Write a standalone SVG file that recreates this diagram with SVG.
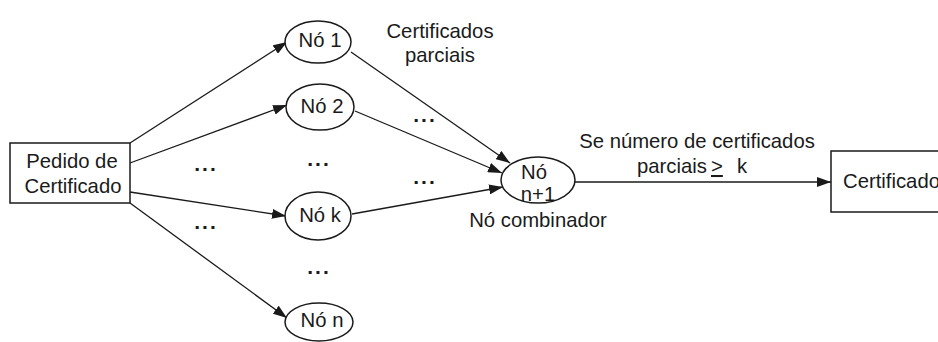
<svg xmlns="http://www.w3.org/2000/svg" width="938" height="342" viewBox="0 0 938 342">
  <defs>
    <marker id="arrow" markerUnits="userSpaceOnUse" markerWidth="15" markerHeight="10" refX="14" refY="5" orient="auto">
      <path d="M0,0 L14,5 L0,10 z" fill="#1a1a1a"/>
    </marker>
  </defs>
  <style>
    .box { fill: #fff; stroke: #1a1a1a; stroke-width: 1.5; }
    .node { fill: #fff; stroke: #1a1a1a; stroke-width: 1.5; }
    .edge { fill: none; stroke: #1a1a1a; stroke-width: 1.3; marker-end: url(#arrow); }
    text { font-family: "Liberation Sans", Arial, sans-serif; font-size: 20.3px; fill: #1a1a1a; }
    .mid { text-anchor: middle; }
    .dots { font-weight: bold; font-size: 21px; letter-spacing: 2px; text-anchor: middle; }
  </style>

  <g id="connectors">
    <line class="edge" x1="130" y1="143" x2="287" y2="42"/>
    <line class="edge" x1="130" y1="163" x2="287" y2="105"/>
    <line class="edge" x1="130" y1="192" x2="286" y2="216"/>
    <line class="edge" x1="130" y1="203" x2="287" y2="318"/>
    <line class="edge" x1="351" y1="52" x2="510" y2="163"/>
    <line class="edge" x1="355" y1="111" x2="502" y2="173"/>
    <line class="edge" x1="352" y1="214" x2="503" y2="187"/>
    <line class="edge" x1="575" y1="182" x2="831" y2="182"/>
  </g>

  <g id="pedido">
    <rect class="box" x="10" y="143" width="120" height="60"/>
    <text class="mid" x="72" y="168">Pedido de</text>
    <text class="mid" x="73" y="193">Certificado</text>
  </g>

  <g id="no1">
    <ellipse class="node" cx="318" cy="42" rx="33" ry="21"/>
    <text class="mid" x="320" y="47">Nó 1</text>
  </g>

  <g id="no2">
    <ellipse class="node" cx="320" cy="107" rx="34" ry="23"/>
    <text class="mid" x="322" y="113">Nó 2</text>
  </g>

  <g id="nok">
    <ellipse class="node" cx="318" cy="216" rx="33" ry="24"/>
    <text class="mid" x="320" y="222">Nó k</text>
  </g>

  <g id="non">
    <ellipse class="node" cx="319" cy="322" rx="34" ry="19"/>
    <text class="mid" x="322" y="327">Nó n</text>
  </g>

  <g id="combinador">
    <ellipse class="node" cx="538" cy="180" rx="37" ry="23"/>
    <text class="mid" x="534" y="179">Nó</text>
    <text class="mid" x="538" y="201">n+1</text>
    <text class="mid" x="538" y="227">Nó combinador</text>
  </g>

  <g id="certificado">
    <rect class="box" x="831" y="151" width="130" height="61"/>
    <text x="843" y="188">Certificado</text>
  </g>

  <g id="labels">
    <text class="mid" x="440" y="38">Certificados</text>
    <text class="mid" x="440" y="62">parciais</text>
    <text class="mid" x="697" y="148">Se número de certificados</text>
    <text x="637" y="173">parciais</text>
    <text x="711" y="173" text-decoration="underline">&gt;</text>
    <text x="737" y="173">k</text>
  </g>

  <g id="ellipses">
    <text class="dots" x="206" y="171">...</text>
    <text class="dots" x="206" y="229">...</text>
    <text class="dots" x="319" y="166">...</text>
    <text class="dots" x="319" y="274">...</text>
    <text class="dots" x="425" y="122">...</text>
    <text class="dots" x="425" y="184">...</text>
  </g>
</svg>
